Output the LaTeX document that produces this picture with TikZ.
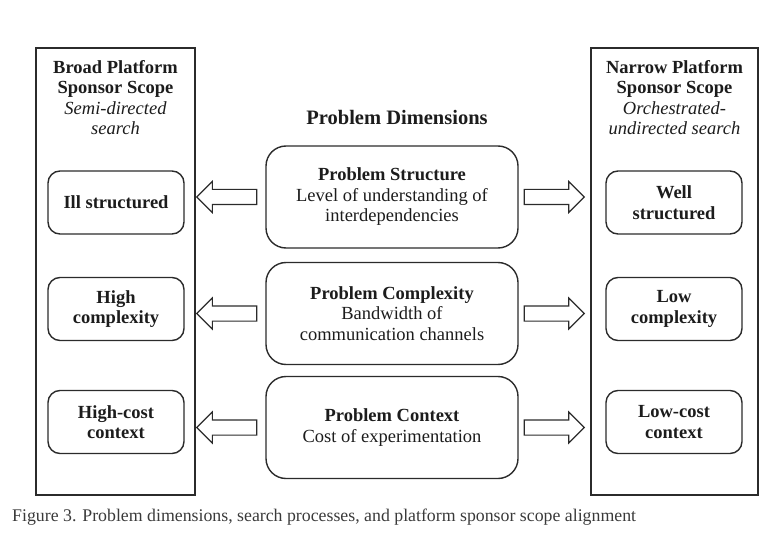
\documentclass[tikz,border=0pt]{standalone}
\usepackage{fontspec}
\setmainfont{Liberation Serif}
\usetikzlibrary{positioning}
\usetikzlibrary{shapes.arrows}

\definecolor{linegray}{HTML}{2B2B2B}
\definecolor{textgray}{HTML}{1C1C1C}
\definecolor{captiongray}{HTML}{3A3A3A}
\newcommand{\diagfont}{\fontsize{18.5}{20.5}\selectfont}

\begin{document}
\begin{tikzpicture}[x=1pt, y=-1pt, text=textgray,
  scopebox/.style={draw=linegray, line width=1.4pt, minimum height=447pt},
  titletext/.style={align=center, inner sep=0pt, font=\diagfont},
  dimbox/.style={draw=linegray, line width=1.4pt, rounded corners=20pt, align=center,
    minimum width=252pt, minimum height=102pt, font=\diagfont},
  outcomebox/.style={draw=linegray, line width=1.4pt, rounded corners=12pt, align=center,
    minimum width=136pt, minimum height=63pt, font=\diagfont\bfseries},
  blockarrow/.style={single arrow, draw=linegray, line width=1.1pt, inner sep=7pt,
    minimum height=60pt, single arrow head extend=8pt}]
            \useasboundingbox (0,0) rectangle (767,553);

            % platform sponsor scope columns
            \node[scopebox, minimum width=159pt] (broad) at (115.5,271.5) {};
            \node[scopebox, minimum width=167pt] (narrow) at (674.5,271.5) {};
            \node[titletext, anchor=north] (broadtitle) at (115.5,60) {\textbf{Broad Platform}\\\textbf{Sponsor Scope}\\\textit{Semi-directed}\\\textit{search}};
            \node[titletext, anchor=north] (narrowtitle) at (674.5,60) {\textbf{Narrow Platform}\\\textbf{Sponsor Scope}\\\textit{Orchestrated-}\\\textit{undirected search}};

            % problem dimensions
            \node[titletext, anchor=base, font=\fontsize{20.5}{22}\selectfont\bfseries] (dimtitle) at (397,125) {Problem Dimensions};
            \node[dimbox] (struct) at (392,197) {\textbf{Problem Structure}\\Level of understanding of\\interdependencies};
            \node[dimbox] (compl) at (392,313.5) {\textbf{Problem Complexity}\\Bandwidth of\\communication channels};
            \node[dimbox] (context) at (392,427.5) {\textbf{Problem Context}\\Cost of experimentation};

            % search outcomes
            \node[outcomebox] (ill) at (116,202.5) {Ill structured};
            \node[outcomebox] (high) at (116,309) {High\\complexity};
            \node[outcomebox] (highcost) at (116,422) {High-cost\\context};
            \node[outcomebox] (well) at (674,202.5) {Well\\structured};
            \node[outcomebox] (low) at (674,309) {Low\\complexity};
            \node[outcomebox] (lowcost) at (674,422) {Low-cost\\context};

            % block arrows
            \node[blockarrow, shape border rotate=180, left=8pt of struct] (a1) {};
            \node[blockarrow, shape border rotate=180, left=8pt of compl] (a2) {};
            \node[blockarrow, shape border rotate=180, left=8pt of context] (a3) {};
            \node[blockarrow, right=5pt of struct] (b1) {};
            \node[blockarrow, right=5pt of compl] (b2) {};
            \node[blockarrow, right=5pt of context] (b3) {};

            \node[anchor=west, inner sep=0pt, text=captiongray, font=\fontsize{17.8}{19}\selectfont] (caption) at (12,517) {Figure 3. Problem dimensions, search processes, and platform sponsor scope alignment};
        \end{tikzpicture}
\end{document}
